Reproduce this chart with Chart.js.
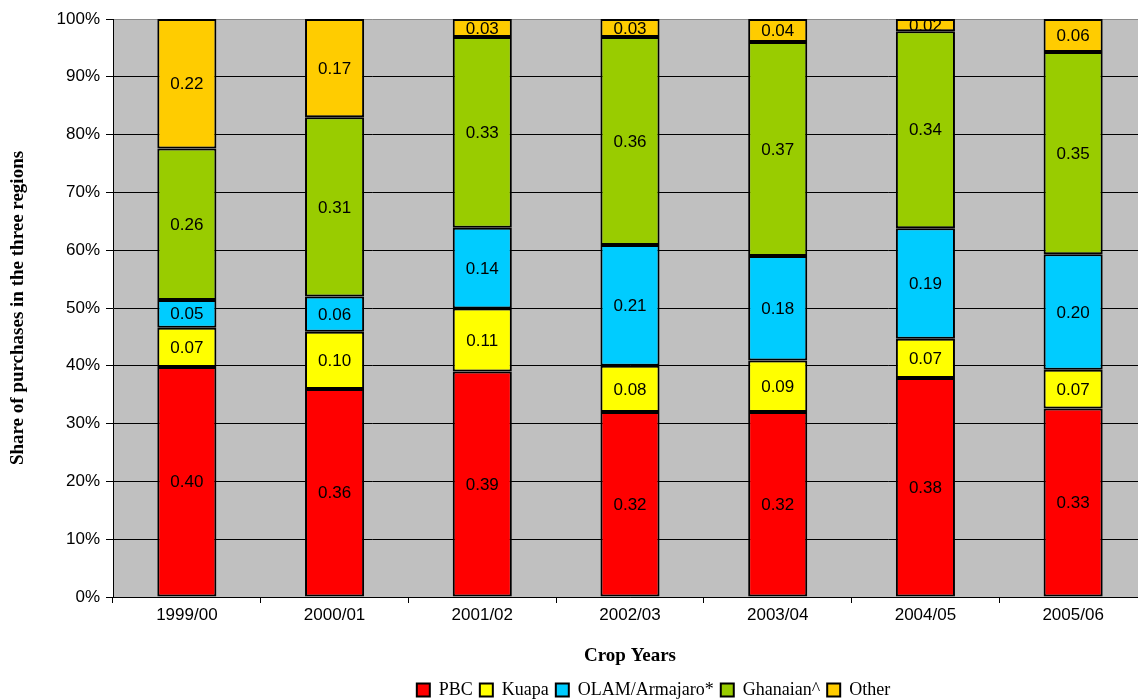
<!DOCTYPE html>
<html>
<head>
<meta charset="utf-8">
<title>Share of purchases by buyer, 1999/00 – 2005/06</title>
<script src="https://cdn.jsdelivr.net/npm/chart.js@4/dist/chart.umd.min.js"></script>
<style>
  html, body { margin: 0; padding: 0; background: #ffffff; overflow: hidden; }
  canvas { display: block; }
</style>
</head>
<body>
<canvas id="chart" width="1147" height="700"></canvas>
<script>
// Crop years on the x axis
const cropYears = ['1999/00', '2000/01', '2001/02', '2002/03', '2003/04', '2004/05', '2005/06'];

// Share of purchases per buyer group (each year sums to 1)
const pbc      = [0.398, 0.360, 0.390, 0.320, 0.320, 0.379, 0.326];
const kuapa    = [0.068, 0.099, 0.109, 0.080, 0.089, 0.068, 0.067];
const olam     = [0.048, 0.061, 0.140, 0.209, 0.181, 0.191, 0.200];
const ghanaian = [0.262, 0.310, 0.330, 0.360, 0.370, 0.341, 0.350];
const other    = [0.224, 0.170, 0.031, 0.031, 0.040, 0.021, 0.057];

// Y axis tick values (fractions shown as percentages)
const yTicks = [0, 0.1, 0.2, 0.3, 0.4, 0.5, 0.6, 0.7, 0.8, 0.9, 1.0];

const SANS = "'Liberation Sans', Arial, sans-serif";
const SERIF = "'Liberation Serif', 'Times New Roman', serif";

// Grey plot area behind the bars
const plotBackground = {
  id: 'plotBackground',
  beforeDraw(chart) {
    const { ctx, chartArea: a } = chart;
    ctx.save();
    ctx.fillStyle = '#C0C0C0';
    ctx.fillRect(a.left, a.top, a.right - a.left, a.bottom - a.top);
    ctx.restore();
  }
};

// Nudge the legend row to the right, under the middle of the plot
const legendShift = {
  id: 'legendShift',
  afterLayout(chart) {
    const lg = chart.legend;
    if (lg) { lg.left += 80; lg.right += 80; }
  }
};

// Value written in the middle of every bar segment
const segmentLabels = {
  id: 'segmentLabels',
  afterDatasetsDraw(chart) {
    const { ctx } = chart;
    ctx.save();
    ctx.font = '17px ' + SANS;
    ctx.fillStyle = '#000000';
    ctx.textAlign = 'center';
    ctx.textBaseline = 'middle';
    chart.data.datasets.forEach((ds, di) => {
      const meta = chart.getDatasetMeta(di);
      meta.data.forEach((bar, i) => {
        const v = ds.data[i];
        const yMid = (bar.y + bar.base) / 2;
        ctx.fillText(v.toFixed(2), bar.x, yMid + 1);
      });
    });
    ctx.restore();
  }
};

const seg = (label, data, color) => ({
  label,
  data,
  backgroundColor: color,
  borderColor: '#000000',
  borderWidth: 2,
  borderSkipped: false,
  categoryPercentage: 0.4,
  barPercentage: 1.0
});

new Chart(document.getElementById('chart'), {
  type: 'bar',
  data: {
    labels: cropYears,
    datasets: [
      seg('PBC', pbc, '#FF0000'),
      seg('Kuapa', kuapa, '#FFFF00'),
      seg('OLAM/Armajaro*', olam, '#00CCFF'),
      seg('Ghanaian^', ghanaian, '#99CC00'),
      seg('Other', other, '#FFCC00')
    ]
  },
  options: {
    responsive: false,
    animation: false,
    devicePixelRatio: 1,
    layout: { padding: { top: 19, left: 0, right: 0, bottom: -9 } },
    plugins: {
      legend: {
        position: 'bottom',
        labels: {
          color: '#000000',
          font: { family: SERIF, size: 18 },
          boxWidth: 13,
          boxHeight: 13,
          padding: 7
        }
      },
      tooltip: { enabled: false }
    },
    scales: {
      x: {
        stacked: true,
        offset: true,
        afterFit(scale) { scale.height = 77; },
        grid: {
          offset: true,
          drawOnChartArea: false,
          drawTicks: true,
          tickLength: 6,
          color: '#000000',
          tickColor: '#000000'
        },
        border: { display: true, color: '#000000', width: 1 },
        ticks: {
          color: '#000000',
          font: { family: SANS, size: 17 },
          padding: 2,
          maxRotation: 0
        },
        title: {
          display: true,
          text: 'Crop Years',
          color: '#000000',
          font: { family: SERIF, size: 19, weight: 'bold' },
          padding: { top: 0, bottom: 7 }
        }
      },
      y: {
        stacked: true,
        min: 0,
        max: 1,
        afterFit(scale) { scale.width = 113; },
        afterBuildTicks(scale) { scale.ticks = yTicks.map(v => ({ value: v })); },
        grid: {
          color: ctx => (ctx.tick && ctx.tick.value === 1 ? '#8A8A8A' : '#000000'),
          tickColor: '#000000',
          lineWidth: 1,
          tickLength: 7
        },
        border: { display: true, color: '#000000', width: 1 },
        ticks: {
          color: '#000000',
          font: { family: SANS, size: 17 },
          padding: 6,
          callback: v => Math.round(v * 100) + '%'
        },
        title: {
          display: true,
          text: 'Share of purchases in the three regions',
          color: '#000000',
          font: { family: SERIF, size: 19, weight: 'bold' },
          padding: { top: 7, bottom: 0 }
        }
      }
    }
  },
  plugins: [plotBackground, legendShift, segmentLabels]
});
</script>
</body>
</html>
